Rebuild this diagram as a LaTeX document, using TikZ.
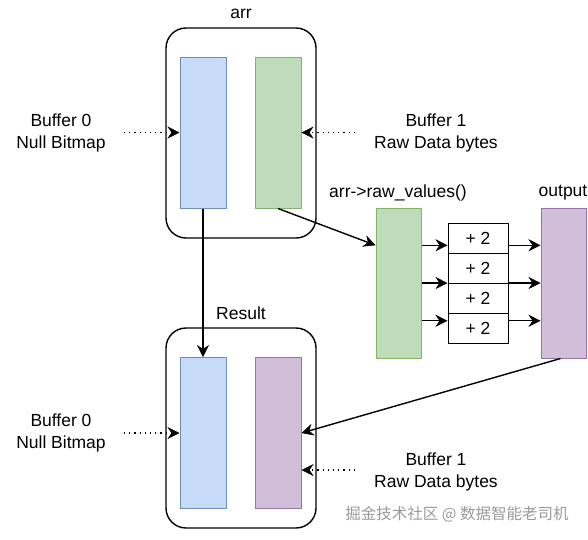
\documentclass[tikz,border=0pt]{standalone}
\usepackage{fontspec}
\setmainfont{Liberation Sans}
\newfontfamily\cjk{Noto Sans CJK SC}
\usetikzlibrary{arrows.meta,calc}
\definecolor{bluefill}{HTML}{C6DBF8}
\definecolor{bluedraw}{HTML}{6C8EBF}
\definecolor{greenfill}{HTML}{BEDCBA}
\definecolor{greendraw}{HTML}{82B366}
\definecolor{purplefill}{HTML}{D1BED9}
\definecolor{purpledraw}{HTML}{9673A6}
\definecolor{wmgray}{HTML}{9A9A9A}
\tikzset{
  txt/.style={font=\fontsize{17.5}{22}\selectfont, align=center, inner sep=0pt},
  outerbox/.style={draw=black, line width=1.4pt, rounded corners=20pt, minimum width=150pt, inner sep=0pt},
  bar/.style={draw=#1draw, fill=#1fill, line width=1pt, minimum width=46pt, minimum height=151pt, inner sep=0pt},
  plusbox/.style={draw=black, line width=1pt, fill=white, minimum width=60pt, minimum height=30pt, inner sep=0pt, font=\fontsize{17.5}{20}\selectfont},
  tipA/.tip={Stealth[length=12pt,width=12pt,inset=4pt,line width=0.5pt]},
  conn/.style={line width=1.4pt, -tipA},
  dotconn/.style={line width=1.4pt, dash pattern=on 1.2pt off 4pt, -tipA},
}
\begin{document}
\begin{tikzpicture}[x=1pt,y=-1pt]
\useasboundingbox (0,0) rectangle (588,539);
% top group
\node[outerbox, minimum height=210pt] (arrbox) at (241,133) {};
\node[bar=blue] (a0) at (203,132.5) {};
\node[bar=green] (a1) at (278,132.5) {};
\node[txt] (arrlbl) at (241,14) {arr};
% bottom group
\node[outerbox, minimum height=200pt] (resbox) at (241,428) {};
\node[bar=blue] (r0) at (203,433) {};
\node[bar=purple] (r1) at (278,433) {};
\node[txt] (reslbl) at (241,313) {Result};
% middle
\node[bar=green, minimum width=45pt, minimum height=150pt] (raw) at (398.5,283) {};
\node[txt] (rawlbl) at (398,193) {arr->raw\_values()};
\node[bar=purple, minimum width=45pt, minimum height=150pt] (out) at (563.5,283) {};
\node[txt] (outlbl) at (563,193) {output};
\node[plusbox] (p1) at (478,238) {+ 2};
\node[plusbox] (p2) at (478,268) {+ 2};
\node[plusbox] (p3) at (478,298) {+ 2};
\node[plusbox] (p4) at (478,328) {+ 2};
% side labels
\node[txt] (b0t) at (61,133) {Buffer 0\\Null Bitmap};
\node[txt] (b1t) at (436,133) {Buffer 1\\Raw Data bytes};
\node[txt] (b0b) at (61,433) {Buffer 0\\Null Bitmap};
\node[txt] (b1b) at (436,472) {Buffer 1\\Raw Data bytes};
% dotted arrows
\coordinate (d1) at (124,132.5);
\coordinate (d2) at (355,132.5);
\coordinate (d3) at (124,433);
\coordinate (d4) at (355,470);
\draw[dotconn] (d1) -- (a0.west);
\draw[dotconn] (d2) -- (a1.east);
\draw[dotconn] (d3) -- (r0.west);
\draw[dotconn] (d4) -- (d4 -| r1.east);
% solid connectors
\draw[conn] (a0.south) -- (r0.north);
\coordinate (rin) at ($(raw.north west)!0.25!(raw.south west)$);
\draw[conn] (a1.south) -- (rin);
\foreach \f/\p in {0.25/p1, 0.5/p3, 0.75/p4} {
  \coordinate (s) at ($(raw.north east)!\f!(raw.south east)$);
  \draw[conn] (s) -- (s -| \p.west);
  \draw[conn] (s -| \p.east) -- (s -| out.west);
}
\draw[conn] ($(out.south)+(-3,0)$) -- (r1.east);
% watermark
\node[inner sep=0pt, text=wmgray, font=\cjk\fontsize{15.5}{18}\selectfont] (wm) at (457,514) {掘金技术社区 @ 数据智能老司机};
\end{tikzpicture}
\end{document}
